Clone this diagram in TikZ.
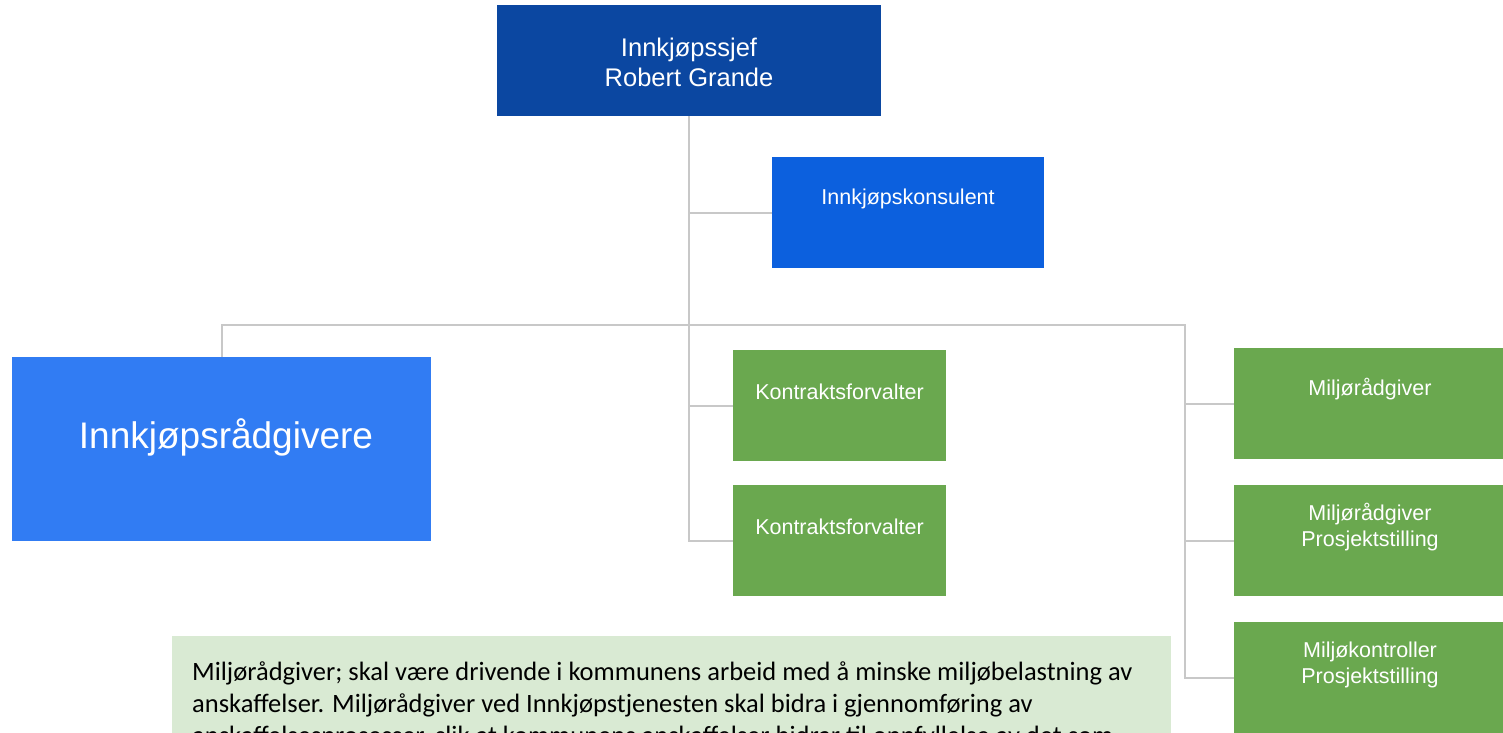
\documentclass[tikz,border=0pt]{standalone}
\usepackage{fontspec}
\setmainfont{Liberation Sans}
\newfontfamily\calib{Carlito}
\usetikzlibrary{calc}
\definecolor{cchief}{HTML}{0B47A1}
\definecolor{ckons}{HTML}{0C60DE}
\definecolor{cradg}{HTML}{317CF3}
\definecolor{cgreen}{HTML}{6AA84F}
\definecolor{cnote}{HTML}{D9EAD3}
\definecolor{cline}{HTML}{C8C8C8}
\tikzset{
  box/.style={draw=none, rectangle, inner sep=0pt},
  lbl/.style={text=white, align=center, inner sep=0pt, font=\fontsize{21.5}{26}\selectfont},
  conn/.style={draw=cline, line width=2pt},
}
\begin{document}
\begin{tikzpicture}[x=1pt,y=1pt]
\clip (0,0) rectangle (1503,-732);
\fill[white] (0,0) rectangle (1503,-732);
% boxes
\node[box, fill=cchief, minimum width=384pt, minimum height=111pt] (chief) at (689,-60.5) {};
\node[box, fill=ckons, minimum width=272pt, minimum height=111pt] (kons) at (908,-212.5) {};
\node[box, fill=cradg, minimum width=419pt, minimum height=184pt] (radg) at (221.5,-449) {};
\node[box, fill=cgreen, minimum width=213pt, minimum height=111pt] (kf1) at (839.5,-405.5) {};
\node[box, fill=cgreen, minimum width=213pt, minimum height=111pt] (kf2) at (839.5,-540.5) {};
\node[box, fill=cgreen, minimum width=269pt, minimum height=111pt] (m1) at (1368.5,-403.5) {};
\node[box, fill=cgreen, minimum width=269pt, minimum height=111pt] (m2) at (1368.5,-540.5) {};
\node[box, fill=cgreen, minimum width=269pt, minimum height=111pt] (m3) at (1368.5,-677.5) {};
% labels
\node[lbl, font=\fontsize{25.5}{30}\selectfont] (tchief) at (689,-62) {Innkjøpssjef\\Robert Grande};
\node[lbl] (tkons) at (908,-199) {Innkjøpskonsulent};
\node[lbl, font=\fontsize{37}{42}\selectfont] (tradg) at (226,-437) {Innkjøpsrådgivere};
\node[lbl] (tkf1) at (839.5,-392) {Kontraktsforvalter};
\node[lbl] (tkf2) at (839.5,-527) {Kontraktsforvalter};
\node[lbl] (tm1) at (1370,-389) {Miljørådgiver};
\node[lbl] (tm2) at (1370,-527) {Miljørådgiver\\Prosjektstilling};
\node[lbl] (tm3) at (1370,-665) {Miljøkontroller\\Prosjektstilling};
% connectors
\coordinate (bus) at (689,-325);
\coordinate (mbus) at (1185,-325);
\draw[conn] (chief.south) -- (chief.south |- kf2.west) -- (kf2.west);
\draw[conn] (chief.south |- kons.west) -- (kons.west);
\draw[conn] (chief.south |- kf1.west) -- (kf1.west);
\draw[conn] (radg.north) -- (radg.north |- bus) -- (mbus) -- (mbus |- m3.west) -- (m3.west);
\draw[conn] (mbus |- m1.west) -- (m1.west);
\draw[conn] (mbus |- m2.west) -- (m2.west);
% note
\node[box, fill=cnote, minimum width=999pt, minimum height=140pt, anchor=north west] (note) at (172,-636) {};
\node[anchor=north west, align=left, inner sep=0pt, text=black, font=\calib\fontsize{26.5}{32}\selectfont] (notetext) at (192,-662)
{Miljørådgiver; skal være drivende i kommunens arbeid med å minske miljøbelastning av\\
anskaffelser. Miljørådgiver ved Innkjøpstjenesten skal bidra i gjennomføring av\\
anskaffelsesprosesser, slik at kommunens anskaffelser bidrar til oppfyllelse av det som};
\end{tikzpicture}
\end{document}
